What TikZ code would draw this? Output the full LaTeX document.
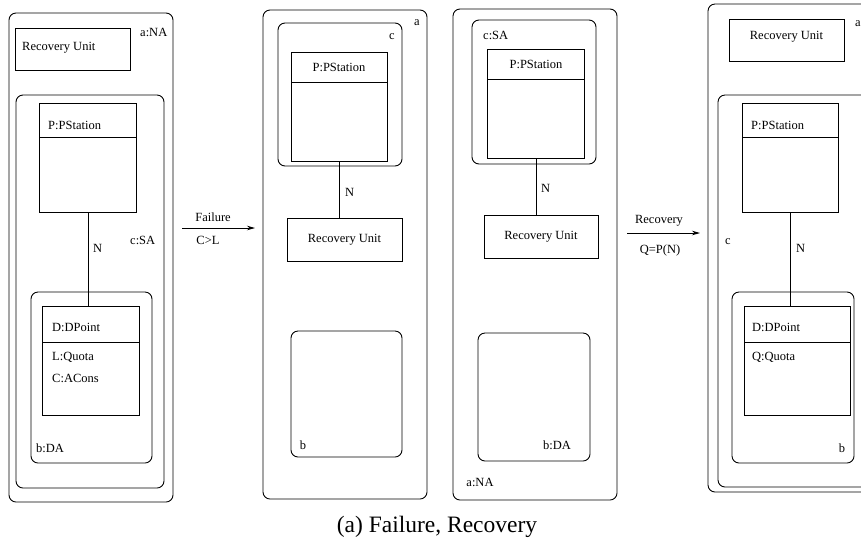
\documentclass[tikz,border=0pt]{standalone}
\usepackage{fontspec}
\setmainfont{Liberation Serif}
\usetikzlibrary{arrows.meta}
\begin{document}
\begin{tikzpicture}[x=1pt,y=-1pt,
  frame/.style={draw, rounded corners=7pt, line width=0.9pt, inner sep=0pt, outer sep=0pt},
  box/.style={draw, line width=0.9pt, inner sep=0pt, outer sep=0pt},
  lbl/.style={font=\fontsize{12.5}{14}\selectfont, inner sep=0pt},
  captext/.style={font=\fontsize{23.5}{27}\selectfont, inner sep=0pt},
  conn/.style={draw, line width=0.9pt},
  trans/.style={-{Stealth[length=8pt,width=4.5pt,inset=2.5pt]}, line width=0.9pt}]
\path[use as bounding box] (0,0) rectangle (861,542);
\clip (0,0) rectangle (861,542);

% ---------- Panel 1 ----------
\node[frame, minimum width=164, minimum height=489] (a1) at (91,257.5) {};
\node[box, minimum width=115, minimum height=42] (ru1) at (72.5,49) {};
\node[frame, minimum width=148, minimum height=393] (c1) at (90,291.5) {};
\node[box, minimum width=97, minimum height=109] (p1) at (87.5,157.5) {};
\draw[conn] (p1.west |- 0,137) -- (p1.east |- 0,137);
\node[frame, minimum width=121, minimum height=171] (b1) at (91.5,377.5) {};
\node[box, minimum width=97, minimum height=109] (d1) at (90.5,360.5) {};
\draw[conn] (d1.west |- 0,342) -- (d1.east |- 0,342);
\draw[conn] (p1.south -| 88,0) -- (d1.north -| 88,0);
\node[lbl, anchor=west] (t1a) at (140,32) {a:NA};
\node[lbl, anchor=west] (t1ru) at (22,48) {Recovery Unit};
\node[lbl, anchor=west] (t1p) at (48,125) {P:PStation};
\node[lbl, anchor=west] (t1n) at (93,248) {N};
\node[lbl, anchor=west] (t1c) at (130,240) {c:SA};
\node[lbl, anchor=west] (t1d) at (52,327) {D:DPoint};
\node[lbl, anchor=west] (t1l) at (52,357) {L:Quota};
\node[lbl, anchor=west] (t1cc) at (52,378) {C:ACons};
\node[lbl, anchor=west] (t1b) at (36,448) {b:DA};

% ---------- Arrow 1 ----------
\coordinate (f1) at (182,228);
\coordinate (f2) at (255,228);
\draw[trans] (f1) -- (f2);
\node[lbl] (fl1) at (213,217) {Failure};
\node[lbl] (fl2) at (208,240) {C>L};

% ---------- Panel 2 ----------
\node[frame, minimum width=164, minimum height=489] (a2) at (345,254.5) {};
\node[frame, minimum width=124, minimum height=143] (c2) at (340,94.5) {};
\node[box, minimum width=96, minimum height=109] (p2) at (339,106.5) {};
\draw[conn] (p2.west |- 0,82) -- (p2.east |- 0,82);
\node[box, minimum width=115, minimum height=43] (ru2) at (344.5,239.5) {};
\node[frame, minimum width=111, minimum height=126] (b2) at (346.5,394) {};
\draw[conn] (p2.south) -- (p2.south |- ru2.north);
\node[lbl] (t2a) at (417,23) {a};
\node[lbl] (t2c) at (392,37) {c};
\node[lbl] (t2p) at (339,67) {P:PStation};
\node[lbl, anchor=west] (t2n) at (345,192) {N};
\node[lbl] (t2ru) at (344.5,240) {Recovery Unit};
\node[lbl] (t2b) at (303,445) {b};

% ---------- Panel 3 ----------
\node[frame, minimum width=164, minimum height=491] (a3) at (535,254.5) {};
\node[frame, minimum width=124, minimum height=144] (c3) at (534,92) {};
\node[box, minimum width=97, minimum height=109] (p3) at (535.5,103.5) {};
\draw[conn] (p3.west |- 0,79) -- (p3.east |- 0,79);
\node[box, minimum width=114, minimum height=43] (ru3) at (541,236.5) {};
\node[frame, minimum width=112, minimum height=128] (b3) at (534,397) {};
\draw[conn] (p3.south -| 536,0) -- (ru3.north -| 536,0);
\node[lbl, anchor=west] (t3c) at (483,35) {c:SA};
\node[lbl] (t3p) at (536,64) {P:PStation};
\node[lbl, anchor=west] (t3n) at (541,188) {N};
\node[lbl] (t3ru) at (541,237) {Recovery Unit};
\node[lbl] (t3b) at (557,445) {b:DA};
\node[lbl] (t3a) at (480,482) {a:NA};

% ---------- Arrow 2 ----------
\coordinate (r1) at (627,233);
\coordinate (r2) at (700,233);
\draw[trans] (r1) -- (r2);
\node[lbl] (rl1) at (659,221) {Recovery};
\node[lbl] (rl2) at (660,250) {Q=P(N)};

% ---------- Panel 4 ----------
\node[frame, minimum width=170, minimum height=488] (a4) at (793,248) {};
\node[frame, minimum width=154, minimum height=392] (c4) at (795,291) {};
\node[box, minimum width=115, minimum height=42] (ru4) at (786.5,40) {};
\node[box, minimum width=96, minimum height=109] (p4) at (790,157.5) {};
\draw[conn] (p4.west |- 0,137) -- (p4.east |- 0,137);
\node[frame, minimum width=122, minimum height=171] (b4) at (793,377.5) {};
\node[box, minimum width=106, minimum height=109] (d4) at (797,360.5) {};
\draw[conn] (d4.west |- 0,342) -- (d4.east |- 0,342);
\draw[conn] (p4.south) -- (p4.south |- d4.north);
\node[lbl] (t4a) at (858,24) {a};
\node[lbl] (t4ru) at (786.5,37) {Recovery Unit};
\node[lbl, anchor=west] (t4p) at (751,125) {P:PStation};
\node[lbl] (t4c) at (728,242) {c};
\node[lbl, anchor=west] (t4n) at (796,248) {N};
\node[lbl, anchor=west] (t4d) at (752,327) {D:DPoint};
\node[lbl, anchor=west] (t4q) at (752,357) {Q:Quota};
\node[lbl] (t4b) at (842,448) {b};

% ---------- Caption ----------
\node[captext] (caption) at (437,527) {(a) Failure, Recovery};
\end{tikzpicture}
\end{document}
